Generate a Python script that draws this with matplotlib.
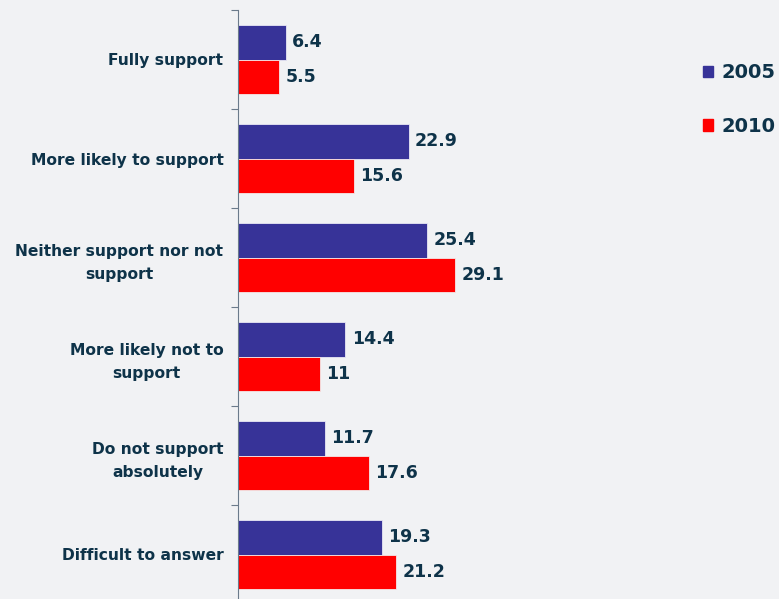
import matplotlib.pyplot as plt
import matplotlib.patches as mpatches
import numpy as np

categories = ['Fully support', 'More likely to support', 'Neither support nor not\nsupport',
              'More likely not to\nsupport', 'Do not support\nabsolutely', 'Difficult to answer']
v2005 = [6.4, 22.9, 25.4, 14.4, 11.7, 19.3]
v2010 = [5.5, 15.6, 29.1, 11, 17.6, 21.2]
years = ['2005', '2010']

blue = '#373398'
red = '#ff0000'
txt = '#0e3349'
bg = '#f1f2f4'

fig = plt.figure(figsize=(7.79, 5.99), dpi=100, facecolor=bg)
# axes runs a little past the bottom edge, like the original slide
ax = fig.add_axes([238/779, -5/599, 430/779, 594/599])
ax.set_facecolor('none')

n = len(categories)
pos = np.arange(n)
h = 0.35
ax.barh(pos - h/2, v2005, height=h, color=blue, edgecolor='#e8e8f4', linewidth=0.6)
ax.barh(pos + h/2, v2010, height=h, color=red, edgecolor='#f4e8e8', linewidth=0.6)

for i in range(n):
    ax.text(v2005[i] + 0.85, pos[i] - h/2, str(v2005[i]), va='center', ha='left',
            fontsize=12.5, fontweight='bold', color=txt)
    ax.text(v2010[i] + 0.85, pos[i] + h/2, str(v2010[i]), va='center', ha='left',
            fontsize=12.5, fontweight='bold', color=txt)

ax.set_xlim(0, 430/7.45)
ax.set_ylim(n - 0.5, -0.5)
ax.set_xticks([])
ax.set_yticks(np.arange(-0.5, n, 1))
ax.set_yticklabels([])
ax.set_yticks(pos, minor=True)
ax.set_yticklabels(categories, minor=True, fontsize=11.2, fontweight='bold', color=txt,
                   ha='right', multialignment='center', linespacing=1.7)
ax.tick_params(axis='y', which='major', direction='out', length=5, color='#6b7b8b')
ax.tick_params(axis='y', which='minor', length=0, pad=10.5)
for s in ['top', 'right', 'bottom']:
    ax.spines[s].set_visible(False)
ax.spines['left'].set_color('#6b7b8b')

handles = [mpatches.Patch(color=blue, label=years[0]), mpatches.Patch(color=red, label=years[1])]
fig.legend(handles=handles, loc='upper left', bbox_to_anchor=(685/779, 1 - 46/599),
           frameon=False, handlelength=0.55, handleheight=0.55, handletextpad=0.45,
           labelspacing=1.75, prop={'size': 14, 'weight': 'bold'}, labelcolor=txt)

fig.savefig('out.png', dpi=100, facecolor=bg)
